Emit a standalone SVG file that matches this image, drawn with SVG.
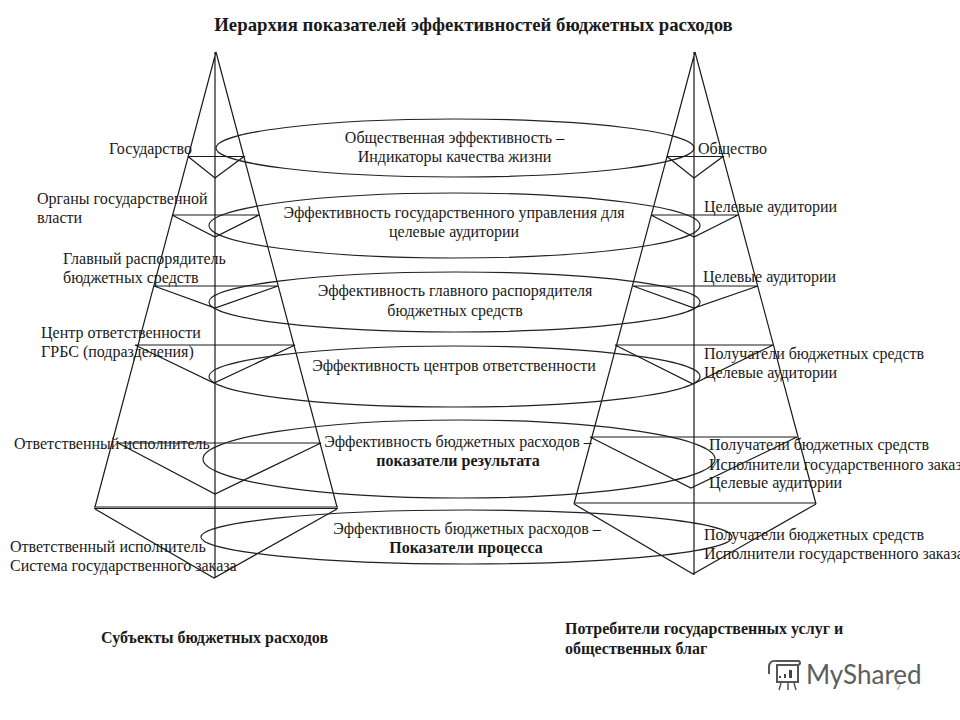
<svg xmlns="http://www.w3.org/2000/svg" width="960" height="720" viewBox="0 0 960 720">
<style>
.l{fill:none;stroke:#1a1a1a;stroke-width:1.2}
.e{fill:none;stroke:#222;stroke-width:1.2}
text{font-family:"Liberation Serif","Times New Roman",serif;font-size:16px;fill:#1a1a1a}
.c{text-anchor:middle}
.b{font-weight:bold}
.t{font-size:18.800px;font-weight:bold}
</style>
<rect width="960" height="720" fill="#fff"/>
<g id="connectors">
<path class="l" d="M216 52L95 507M216 52L337 507M215 52V578M94 507H338M94 508.500H338"/>
<path class="l" d="M188 156.500H244L215 178L188 156.500M172 215H259L215 237L172 215M154 286H278L215 308L154 286M135 345H295L214 383L135 345M118 443H321L215 494L118 443M95 509L214 578L337 509"/>
<path class="l" d="M695 52L574 504M695 52L816 504M694 52V575M574 503H816"/>
<path class="l" d="M667 156.500H723L694 178L667 156.500M651 215H738L694 237L651 215M633 286H758L694 308L633 286M615 345H773L693 384L615 345M590 437H797L691 488L590 437M574 504L693 574L816 504"/>
</g>
<g id="level-1"><ellipse class="e" cx="455" cy="148" rx="239" ry="29"/>
<text class="c" x="454.500" y="143">Общественная эффективность –</text><text class="c" x="454.500" y="162">Индикаторы качества жизни</text></g>
<g id="level-2"><ellipse class="e" cx="454.500" cy="225.500" rx="245.500" ry="32.500"/>
<text class="c" x="454" y="218">Эффективность государственного управления для</text><text class="c" x="454" y="237">целевые аудитории</text></g>
<g id="level-3"><ellipse class="e" cx="454.500" cy="302" rx="245.500" ry="30"/>
<text class="c" x="455" y="296">Эффективность главного распорядителя</text><text class="c" x="455" y="316">бюджетных средств</text></g>
<g id="level-4"><ellipse class="e" cx="454.500" cy="376.500" rx="245.500" ry="30.500"/>
<text class="c" x="454" y="371">Эффективность центров ответственности</text></g>
<g id="level-5"><ellipse class="e" cx="459" cy="459" rx="256" ry="39"/>
<text class="c" x="458" y="447">Эффективность бюджетных расходов –</text><text class="c b" x="458" y="466">показатели результата</text></g>
<g id="level-6"><ellipse class="e" cx="466.500" cy="537" rx="265.500" ry="27"/>
<text class="c" x="467" y="534">Эффективность бюджетных расходов –</text><text class="c b" x="466" y="553">Показатели процесса</text></g>
<g id="left-labels">
<text x="109" y="154">Государство</text>
<text x="37" y="204">Органы государственной</text><text x="37" y="223">власти</text>
<text x="63" y="264">Главный распорядитель</text><text x="63" y="283">бюджетных средств</text>
<text x="41" y="338">Центр ответственности</text><text x="41" y="357">ГРБС (подразделения)</text>
<text x="14" y="449">Ответственный исполнитель</text>
<text x="10" y="552">Ответственный исполнитель</text><text x="10" y="571">Система государственного заказа</text>
</g>
<g id="right-labels">
<text x="698" y="154">Общество</text>
<text x="704" y="212">Целевые аудитории</text>
<text x="703" y="282">Целевые аудитории</text>
<text x="704" y="359">Получатели бюджетных средств</text><text x="704" y="378">Целевые аудитории</text>
<text x="709" y="450">Получатели бюджетных средств</text><text x="709" y="470">Исполнители государственного заказа</text><text x="709" y="488">Целевые аудитории</text>
<text x="704" y="540">Получатели бюджетных средств</text><text x="704" y="559">Исполнители государственного заказа</text>
</g>
<g id="headings">
<text class="t c" x="473.500" y="31">Иерархия показателей эффективностей бюджетных расходов</text>
<text class="b" x="101" y="643">Субъекты бюджетных расходов</text>
<text class="b" x="565" y="634">Потребители государственных услуг и</text>
<text class="b" x="565" y="654">общественных благ</text>
</g>
<g id="watermark">
<path d="M777 665H798V682H777ZM777 661H799Q801 663 799 665M777 661Q769 660 769 667V674" fill="none" stroke="#555" stroke-width="2"/>
<path d="M779 678h2v-2h-2zM784 678h2v-4h-2zM789 678h3v-8h-3z" fill="#444"/>
<path d="M781 683L779 690M788 683V690M794 683L796 690" stroke="#555" stroke-width="1.500"/>
<text x="806" y="684" style="font-family:Lato,'Open Sans',sans-serif;font-size:26px;fill:#5a6060">MyShared</text>
<text x="896" y="690" style="font-size:10px;fill:#555">7</text>
</g>
</svg>
